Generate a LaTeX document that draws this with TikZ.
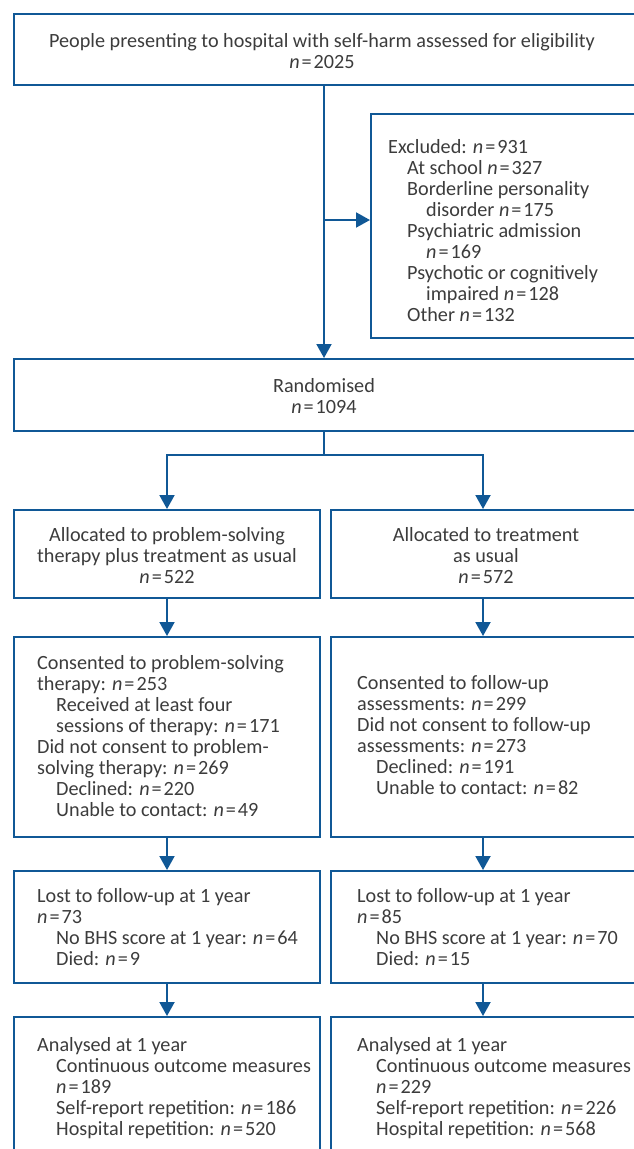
\documentclass[tikz,border=0pt]{standalone}
\usepackage{fontspec}
\setmainfont{Carlito}
\usetikzlibrary{arrows.meta}
\definecolor{cblue}{RGB}{16,88,150}
\definecolor{ctext}{RGB}{60,60,60}
\newcommand\nval[1]{\textit{n}\kern2pt=\kern2pt#1}
\newcommand\ind{\hspace*{19pt}}
\begin{document}
\begin{tikzpicture}[x=1pt,y=-1pt,
 box/.style={draw=cblue,line width=2pt,rectangle,inner sep=0pt,anchor=north west},
 txt/.style={inner sep=0pt,text=ctext,font=\fontsize{20.2}{21}\selectfont},
 arr/.style={draw=cblue,line width=2pt,-{Triangle[width=15pt,length=14pt]}},
 ln/.style={draw=cblue,line width=2pt}]
\useasboundingbox (0,0) rectangle (634,1149);
\clip (0,0) rectangle (634,1149);
% boxes
\node[box,minimum width=687pt,minimum height=71pt] (b1) at (13,13) {};
\node[box,minimum width=330pt,minimum height=224pt] (excl) at (370,113) {};
\node[box,minimum width=687pt,minimum height=72pt] (rand) at (13,358) {};
\node[box,minimum width=306pt,minimum height=88pt] (allocL) at (13,509) {};
\node[box,minimum width=370pt,minimum height=88pt] (allocR) at (330,509) {};
\node[box,minimum width=306pt,minimum height=200pt] (consL) at (13,636) {};
\node[box,minimum width=370pt,minimum height=200pt] (consR) at (330,636) {};
\node[box,minimum width=306pt,minimum height=112pt] (lostL) at (13,870) {};
\node[box,minimum width=370pt,minimum height=112pt] (lostR) at (330,870) {};
\node[box,minimum width=306pt,minimum height=200pt] (analL) at (13,1016) {};
\node[box,minimum width=370pt,minimum height=200pt] (analR) at (330,1016) {};
% texts
\node[txt,align=center,anchor=north] (t1) at (322,33) {People presenting to hospital with self-harm assessed for eligibility\\ \nval{2025}};
\node[txt,align=left,anchor=north west] (texcl) at (388,139.5) {Excluded: \nval{931}\\
\ind At school \nval{327}\\
\ind Borderline personality\\
\ind\ind disorder \nval{175}\\
\ind Psychiatric admission\\
\ind\ind \nval{169}\\
\ind Psychotic or cognitively\\
\ind\ind impaired \nval{128}\\
\ind Other \nval{132}};
\node[txt,align=center,anchor=north] (trand) at (324,378.5) {Randomised\\ \nval{1094}};
\node[txt,align=center,anchor=north] (tallocL) at (167,527.5) {Allocated to problem-solving\\ therapy plus treatment as usual\\ \nval{522}};
\node[txt,align=center,anchor=north] (tallocR) at (486,527.5) {Allocated to treatment\\ as usual\\ \nval{572}};
\node[txt,align=left,anchor=north west] (tconsL) at (37,655.5) {Consented to problem-solving\\
therapy: \nval{253}\\
\ind Received at least four\\
\ind sessions of therapy: \nval{171}\\
Did not consent to problem-\\
solving therapy: \nval{269}\\
\ind Declined: \nval{220}\\
\ind Unable to contact: \nval{49}};
\node[txt,align=left,anchor=north west] (tconsR) at (357,675.5) {Consented to follow-up\\
assessments: \nval{299}\\
Did not consent to follow-up\\
assessments: \nval{273}\\
\ind Declined: \nval{191}\\
\ind Unable to contact: \nval{82}};
\node[txt,align=left,anchor=north west] (tlostL) at (37,888.5) {Lost to follow-up at 1 year\\
\nval{73}\\
\ind No BHS score at 1 year: \nval{64}\\
\ind Died: \nval{9}};
\node[txt,align=left,anchor=north west] (tlostR) at (357,888.5) {Lost to follow-up at 1 year\\
\nval{85}\\
\ind No BHS score at 1 year: \nval{70}\\
\ind Died: \nval{15}};
\node[txt,align=left,anchor=north west] (tanalL) at (37,1037.5) {Analysed at 1 year\\
\ind Continuous outcome measures\\
\ind \nval{189}\\
\ind Self-report repetition: \nval{186}\\
\ind Hospital repetition: \nval{520}};
\node[txt,align=left,anchor=north west] (tanalR) at (357,1037.5) {Analysed at 1 year\\
\ind Continuous outcome measures\\
\ind \nval{229}\\
\ind Self-report repetition: \nval{226}\\
\ind Hospital repetition: \nval{568}};
% connectors
\coordinate (xm) at (324,0);
\coordinate (xr) at (483,0);
\coordinate (j1) at (324,220);
\coordinate (j2) at (324,455);
\draw[arr] (b1.south -| xm) -- (rand.north -| xm);
\draw[arr] (j1) -- (j1 -| excl.west);
\draw[ln] (rand.south -| xm) -- (j2);
\draw[arr] (j2) -| (allocL.north);
\draw[arr] (j2) -| (allocR.north -| xr);
\draw[arr] (allocL.south) -- (consL.north);
\draw[arr] (allocR.south -| xr) -- (consR.north -| xr);
\draw[arr] (consL.south) -- (lostL.north);
\draw[arr] (consR.south -| xr) -- (lostR.north -| xr);
\draw[arr] (lostL.south) -- (analL.north);
\draw[arr] (lostR.south -| xr) -- (analR.north -| xr);
\end{tikzpicture}
\end{document}
